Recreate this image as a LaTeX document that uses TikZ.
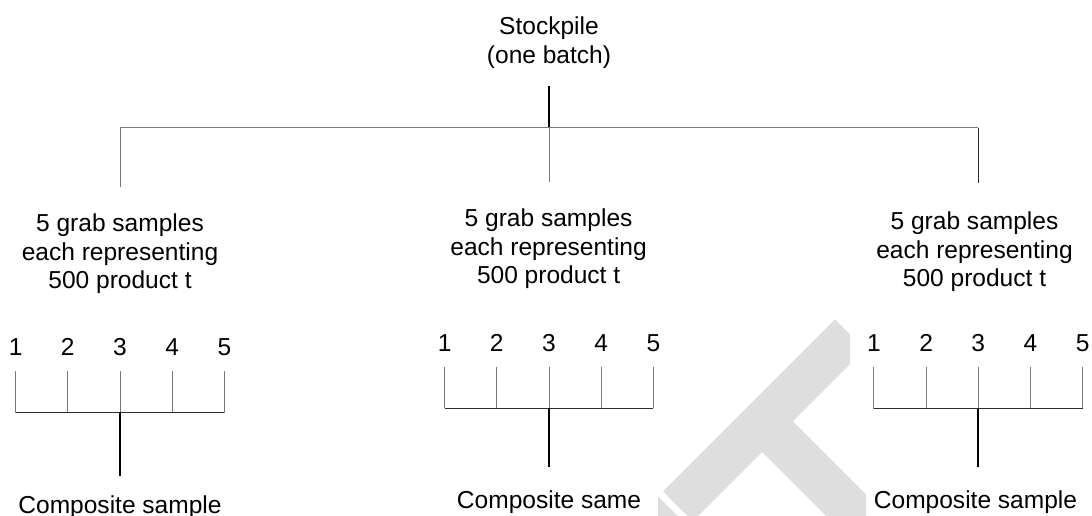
\documentclass[tikz,border=0pt]{standalone}
\usepackage{fontspec}
\setmainfont{Liberation Sans}
\definecolor{wmgrey}{HTML}{DEDEDE}
\definecolor{linegrey}{HTML}{7A7A7A}
\definecolor{linedark}{HTML}{2C2C2C}
\tikzset{
  lbl/.style={inner sep=0pt, anchor=base, align=center,
              font=\fontsize{18.4}{21.5}\selectfont},
  stemline/.style={draw=black, line width=1.5pt},
  greyline/.style={draw=linegrey, line width=0.75pt},
  darkline/.style={draw=linedark, line width=0.75pt},
  wmshape/.style={fill=wmgrey, draw=none}
}
\begin{document}
\begin{tikzpicture}[x=0.75pt, y=-0.75pt]
  \useasboundingbox (0,0) rectangle (1092,516);

  % faint logo shapes in the background
  \fill[wmshape] (835,319.3) -- (850,334.3) -- (850,364) -- (792.8,421.2)
    -- (866,494.4) -- (866,516) -- (826,516) -- (762,452) -- (698,516)
    -- (687.6,516) -- (663,491.4) -- cycle;
  \fill[wmshape] (658,496.3) -- (677.6,516) -- (658,516) -- cycle;

  % stockpile and the three-way split (base anchor = last line)
  \node[lbl] (stock) at (549,63.3) {Stockpile\\(one batch)};
  \coordinate (stemtop) at (549,86);
  \coordinate (hub) at (549,128);
  \coordinate (armL) at (120,128);
  \coordinate (armR) at (978,128);
  \coordinate (dropL) at (120,187);
  \coordinate (dropM) at (549,182);
  \coordinate (dropR) at (978,183);
  \draw[stemline] (stemtop) -- (hub);
  \draw[greyline] (armL) -- (armR);
  \draw[greyline] (armL) -- (dropL);
  \draw[greyline] (hub) -- (dropM);
  \draw[darkline] (armR) -- (dropR);

  % sample descriptions
  \node[lbl] (gL) at (120,289) {5 grab samples\\each representing\\500 product t};
  \node[lbl] (gM) at (548.6,284) {5 grab samples\\each representing\\500 product t};
  \node[lbl] (gR) at (974.5,287) {5 grab samples\\each representing\\500 product t};

  % five increments combined into one composite per group
  \foreach \g/\cx/\db/\tt/\by/\se/\tx/\cb/\ct in {
      L/120/356/371/412.5/476/120/513/{Composite sample},
      M/549/351.7/366.7/408.3/466.7/549/508/{Composite same},
      R/978.3/351.7/367.3/408.7/466.7/975.5/508/{Composite sample}} {
    \foreach \i in {1,...,5} {
      \node[lbl] (d\g\i) at ({\cx+(\i-3)*52.2},\db) {\i};
      \coordinate (t\g\i) at ({\cx+(\i-3)*52.2},\tt);
      \coordinate (b\g\i) at ({\cx+(\i-3)*52.2},\by);
      \draw[greyline] (t\g\i) -- (b\g\i);
    }
    \draw[darkline] (b\g1) -- (b\g5);
    \coordinate (s\g) at (\cx,\se);
    \draw[stemline] (b\g3) -- (s\g);
    \node[lbl] (c\g) at (\tx,\cb) {\ct};
  }
\end{tikzpicture}
\end{document}
